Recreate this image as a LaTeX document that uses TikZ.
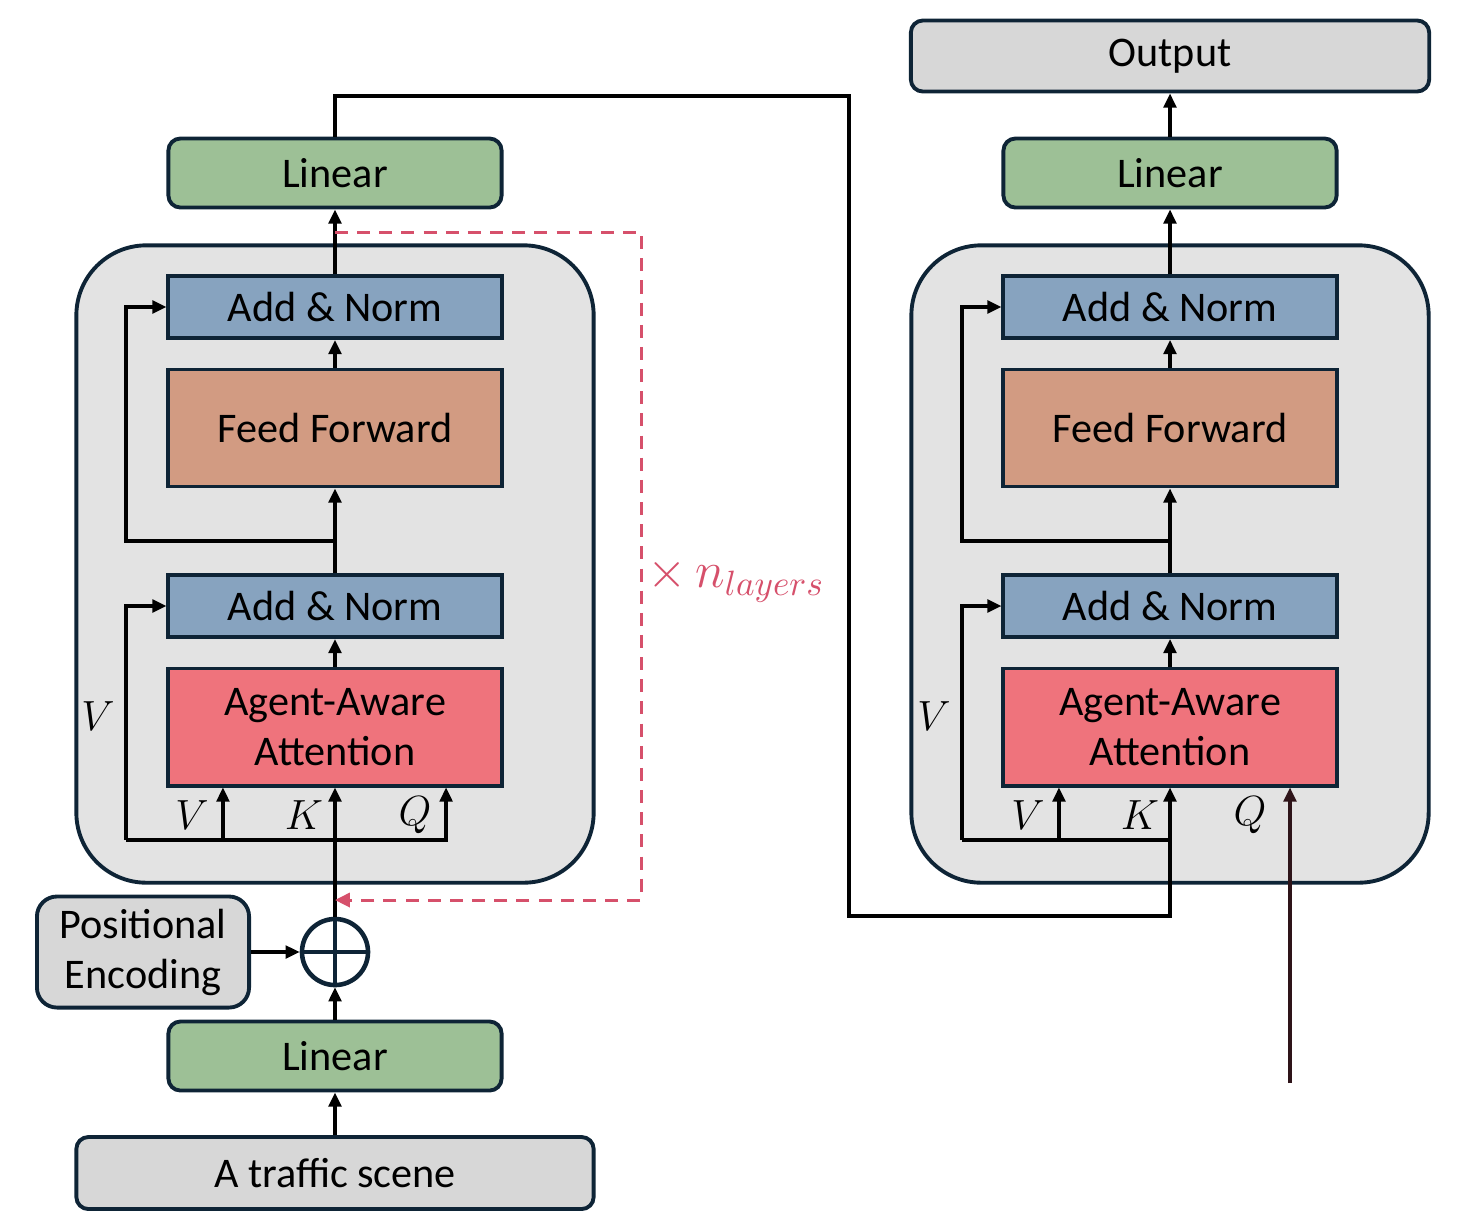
\documentclass[tikz,border=0pt]{standalone}
\usepackage{fontspec}
\setmainfont{Carlito}
\usepackage{tikz}
\usetikzlibrary{positioning,calc,arrows.meta}
\definecolor{edgeNavy}{HTML}{0E2436}
\definecolor{linGreen}{HTML}{9DC096}
\definecolor{normBlue}{HTML}{87A3BF}
\definecolor{ffBrown}{HTML}{D29B82}
\definecolor{attnRed}{HTML}{EF737C}
\definecolor{boxGray}{HTML}{E3E3E3}
\definecolor{nodeGray}{HTML}{D7D7D7}
\definecolor{loopRed}{HTML}{D6506B}
\definecolor{qBrown}{HTML}{2E1419}

\begin{document}
\begin{tikzpicture}[x=0.01cm, y=-0.01cm,
    every node/.style={font=\fontsize{12}{14.2}\selectfont, align=center},
    block/.style={draw=edgeNavy, line width=1.1pt, minimum width=3.33cm, inner sep=0pt},
    lin/.style={block, fill=linGreen, rounded corners=0.12cm, minimum height=0.69cm},
    addnorm/.style={block, fill=normBlue, minimum height=0.62cm},
    ffwd/.style={block, fill=ffBrown, minimum height=1.17cm},
    attn/.style={block, fill=attnRed, minimum height=1.17cm},
    stack/.style={draw=edgeNavy, line width=1.1pt, fill=boxGray, rounded corners=0.7cm, minimum width=5.17cm, minimum height=6.37cm},
    arr/.style={-{Triangle[length=4pt,width=3.6pt]}, line width=0.9pt},
    wire/.style={line width=0.9pt}]
    \useasboundingbox (0,0) rectangle (1474,1226);

    % encoder side
    \node[stack] (stackL) at (335,564) {};
    \node[lin] (linTopL) at (335,173) {Linear};
    \node[addnorm] (anL1) at (335,307) {Add \& Norm};
    \node[ffwd] (ffL) at (335,428) {Feed Forward};
    \node[addnorm] (anL2) at (335,606) {Add \& Norm};
    \node[attn] (attnL) at (335,727) {Agent-Aware\\Attention};
    \node[circle, draw=edgeNavy, line width=1.3pt, minimum size=0.66cm, inner sep=0pt] (plus) at (335,952) {};
    \draw[edgeNavy, line width=1.3pt] (plus.north) -- (plus.south) (plus.west) -- (plus.east);
    \node[draw=edgeNavy, line width=1.1pt, fill=nodeGray, rounded corners=0.2cm, minimum width=2.12cm, minimum height=1.11cm] (posenc) at (143,952) {Positional\\Encoding};
    \node[lin] (linBot) at (335,1056) {Linear};
    \node[draw=edgeNavy, line width=1.1pt, fill=nodeGray, rounded corners=0.12cm, minimum width=5.17cm, minimum height=0.72cm] (scene) at (335,1173) {A traffic scene};

    \coordinate (leftL) at (126,840);
    \coordinate (tapL) at (335,840);
    \coordinate (splitL) at (335,541);
    \coordinate (loopS) at (335,232);
    \coordinate (loopC) at (641,900);
    \coordinate (loopE) at (335,900);

    \draw[arr] (scene.north) -- (linBot.south);
    \draw[arr] (linBot.north) -- (plus.south);
    \draw[arr] (posenc.east) -- (plus.west);
    \draw[arr] (plus.north) -- (attnL.south);
    \draw[wire] (leftL) -- (tapL);
    \draw[arr] (tapL) -| ([xshift=1.11cm]attnL.south);
    \draw[arr] ([xshift=-1.12cm]attnL.south |- tapL) -- ([xshift=-1.12cm]attnL.south);
    \draw[arr] (leftL) |- (anL2.west);
    \draw[arr] (attnL.north) -- (anL2.south);
    \draw[arr] (anL2.north) -- (ffL.south);
    \draw[arr] (splitL) -- (splitL -| leftL) |- (anL1.west);
    \draw[arr] (ffL.north) -- (anL1.south);
    \draw[arr] (anL1.north) -- (linTopL.south);
    \draw[-{Triangle[length=4.2pt,width=4pt]}, loopRed, line width=0.85pt, dash pattern=on 3.7pt off 2.6pt] (loopS) -| (loopC) -- (loopE);

    \node (vL) at (192,815) {$V$};
    \node (kL) at (304,815) {$K$};
    \node (qL) at (415,815) {$Q$};
    \node (vSideL) at (98,716) {$V$};
    \node[text=loopRed, font=\fontsize{14}{16}\selectfont] (times) at (736,580) {$\times\,n_{layers}$};

    % decoder side
    \node[stack] (stackR) at (1170,564) {};
    \node[draw=edgeNavy, line width=1.1pt, fill=nodeGray, rounded corners=0.12cm, minimum width=5.18cm, minimum height=0.71cm] (out) at (1170,56) {Output};
    \node[lin] (linR) at (1170,173) {Linear};
    \node[addnorm] (anR1) at (1170,307) {Add \& Norm};
    \node[ffwd] (ffR) at (1170,428) {Feed Forward};
    \node[addnorm] (anR2) at (1170,606) {Add \& Norm};
    \node[attn] (attnR) at (1170,727) {Agent-Aware\\Attention};

    \coordinate (leftR) at (962,840);
    \coordinate (tapR) at (1170,840);
    \coordinate (splitR) at (1170,541);
    \coordinate (top) at (335,96);
    \coordinate (hop) at (849,916);
    \coordinate (qin) at (1290,1083);

    \draw[arr] (linTopL.north) -- (top) -| (hop) -| (attnR.south);
    \draw[wire] (leftR) -- (tapR);
    \draw[arr] ([xshift=-1.11cm]attnR.south |- tapR) -- ([xshift=-1.11cm]attnR.south);
    \draw[arr] (leftR) |- (anR2.west);
    \draw[arr, qBrown] (qin) -- (qin |- attnR.south);
    \draw[arr] (attnR.north) -- (anR2.south);
    \draw[arr] (anR2.north) -- (ffR.south);
    \draw[arr] (splitR) -- (splitR -| leftR) |- (anR1.west);
    \draw[arr] (ffR.north) -- (anR1.south);
    \draw[arr] (anR1.north) -- (linR.south);
    \draw[arr] (linR.north) -- (out.south);

    \node (vR) at (1028,815) {$V$};
    \node (kR) at (1140,815) {$K$};
    \node (qR) at (1250,815) {$Q$};
    \node (vSideR) at (934,716) {$V$};
\end{tikzpicture}
\end{document}
